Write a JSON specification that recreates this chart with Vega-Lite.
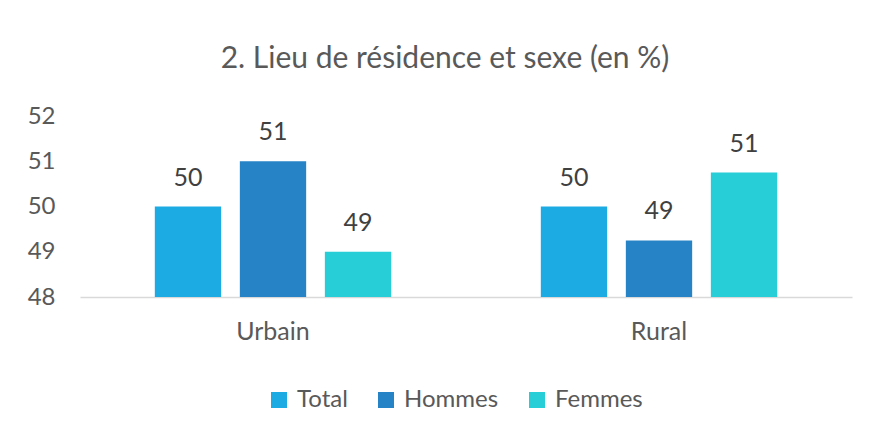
{
  "$schema": "https://vega.github.io/schema/vega-lite/v6.json",
  "width": 772,
  "height": 181,
  "autosize": {"type": "none"},
  "padding": {"left": 80, "top": 116, "right": 24, "bottom": 139},
  "background": "white",
  "title": {"text": "2. Lieu de résidence et sexe (en %)", "font": "Lato", "fontSize": 30, "fontWeight": "normal", "color": "#595959", "offset": 30, "anchor": "middle", "dx": -21},
  "data": {"values": [
    {"lieu": "Urbain", "sexe": "Total", "valeur": 50},
    {"lieu": "Urbain", "sexe": "Hommes", "valeur": 51},
    {"lieu": "Urbain", "sexe": "Femmes", "valeur": 49},
    {"lieu": "Rural", "sexe": "Total", "valeur": 50},
    {"lieu": "Rural", "sexe": "Hommes", "valeur": 49.25},
    {"lieu": "Rural", "sexe": "Femmes", "valeur": 50.75}
  ]},
  "encoding": {
    "x": {"field": "lieu", "type": "nominal", "sort": ["Urbain", "Rural"], "scale": {"paddingInner": 0, "paddingOuter": 0},
      "axis": {"title": null, "labelAngle": 0, "labelFont": "Lato", "labelFontSize": 25, "labelColor": "#595959", "labelPadding": 22, "ticks": false, "domainColor": "#D9D9D9", "domainWidth": 1.5}},
    "xOffset": {"field": "sexe", "type": "nominal", "sort": ["Total", "Hommes", "Femmes"], "scale": {"paddingInner": 0.22, "paddingOuter": 0.88}},
    "y": {"field": "valeur", "type": "quantitative", "scale": {"domain": [48, 52], "zero": false, "nice": false},
      "axis": {"title": null, "values": [48, 49, 50, 51, 52], "grid": false, "domain": false, "ticks": false, "labelFont": "Lato", "labelFontSize": 24, "labelColor": "#595959", "labelPadding": 25}}
  },
  "layer": [
    {"mark": {"type": "bar", "clip": true},
      "encoding": {"color": {"field": "sexe", "type": "nominal", "sort": ["Total", "Hommes", "Femmes"],
        "scale": {"domain": ["Total", "Hommes", "Femmes"], "range": ["#1CACE3", "#2683C6", "#27CED7"]},
        "legend": {"orient": "none", "legendX": 187, "legendY": 272, "title": null, "direction": "horizontal", "symbolType": "square", "symbolSize": 256, "symbolStrokeWidth": 0, "labelFont": "Lato", "labelFontSize": 24, "labelColor": "#595959", "columnPadding": 26, "labelOffset": 6}}}},
    {"mark": {"type": "text", "baseline": "alphabetic", "dy": -21, "font": "Lato", "fontSize": 25, "color": "#404040"},
      "encoding": {"text": {"field": "valeur", "type": "quantitative", "format": ".0f"}}}
  ],
  "config": {"view": {"stroke": null}}
}
